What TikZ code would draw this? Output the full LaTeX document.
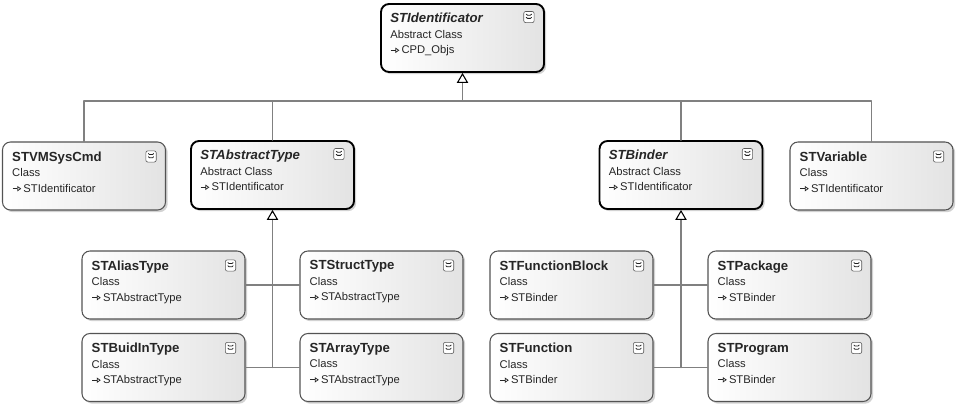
\documentclass[tikz,border=0pt]{standalone}
\usepackage{fontspec}
\setmainfont{Liberation Sans}
\usetikzlibrary{arrows.meta,shadows}

\newcommand\clsname[1]{{\fontsize{9.9pt}{11.6pt}\selectfont\bfseries #1}}
\newcommand\absname[1]{{\fontsize{9.9pt}{11.6pt}\selectfont\bfseries\itshape #1}}
\newcommand\inh{\tikz[baseline=-0.6ex]\draw[line width=0.55pt,-{Triangle[open,length=3pt,width=4pt]}] (0,0) -- (6.5pt,0);}

\begin{document}
\begin{tikzpicture}[x=0.75pt,y=-0.75pt,line cap=round,line join=round,
  cls/.style={draw=gray!65!black,line width=0.8pt,rounded corners=6pt,
    minimum width=122.25pt,minimum height=51pt,inner sep=0pt,
    left color=white,right color=gray!22,
    drop shadow={shadow xshift=1.6pt,shadow yshift=-1.6pt,opacity=0.35}},
  abs/.style={cls,draw=black,line width=1.4pt},
  txt/.style={anchor=north west,inner sep=0pt,align=left,
    font=\fontsize{8.4pt}{11.6pt}\selectfont,text=black!85},
  tog/.style={draw=gray!70!black,fill=white,rounded corners=1.5pt,line width=0.45pt,
    minimum width=7.8pt,minimum height=8.4pt,inner sep=0pt,
    path picture={
      \draw[line width=0.6pt,gray!25!black] ([shift={(-2pt,2.2pt)}]path picture bounding box.center) -- ++(2pt,-1.8pt) -- ++(2pt,1.8pt);
      \draw[line width=0.6pt,gray!25!black] ([shift={(-2pt,-0.2pt)}]path picture bounding box.center) -- ++(2pt,-1.8pt) -- ++(2pt,1.8pt);}},
  link/.style={draw=gray,line width=1.1pt},
  inherit/.style={link,-{Triangle[open,length=7.5pt,width=8.5pt,color=black,line width=0.8pt]}}]

  \path[use as bounding box,fill=white] (0,0) rectangle (972,410);

  % root
  \node[abs] (ident) at (462.5,38) {};
  \node[txt] (ident-t) at ([shift={(10,10)}]ident.north west) {\absname{STIdentificator}\\Abstract Class\\\inh\,CPD\_Objs};
  \node[tog] (ident-x) at ([shift={(-16,14)}]ident.north east) {};

  % second row
  \node[cls] (vmsys) at (84,176) {};
  \node[txt] (vmsys-t) at ([shift={(10,10)}]vmsys.north west) {\clsname{STVMSysCmd}\\Class\\\inh\,STIdentificator};
  \node[tog] (vmsys-x) at ([shift={(-15,15)}]vmsys.north east) {};

  \node[abs] (abstype) at (272.5,175) {};
  \node[txt] (abstype-t) at ([shift={(10,10)}]abstype.north west) {\absname{STAbstractType}\\Abstract Class\\\inh\,STIdentificator};
  \node[tog] (abstype-x) at ([shift={(-16,14)}]abstype.north east) {};

  \node[abs] (binder) at (681,175) {};
  \node[txt] (binder-t) at ([shift={(10,10)}]binder.north west) {\absname{STBinder}\\Abstract Class\\\inh\,STIdentificator};
  \node[tog] (binder-x) at ([shift={(-16,14)}]binder.north east) {};

  \node[cls] (variable) at (871.5,176) {};
  \node[txt] (variable-t) at ([shift={(10,10)}]variable.north west) {\clsname{STVariable}\\Class\\\inh\,STIdentificator};
  \node[tog] (variable-x) at ([shift={(-15,15)}]variable.north east) {};

  % types
  \node[cls] (alias) at (163.5,285) {};
  \node[txt] (alias-t) at ([shift={(10,10)}]alias.north west) {\clsname{STAliasType}\\Class\\\inh\,STAbstractType};
  \node[tog] (alias-x) at ([shift={(-15,15)}]alias.north east) {};

  \node[cls] (struct) at (381.5,285) {};
  \node[txt] (struct-t) at ([shift={(10,10)}]struct.north west) {\clsname{STStructType}\\Class\\\inh\,STAbstractType};
  \node[tog] (struct-x) at ([shift={(-15,15)}]struct.north east) {};

  \node[cls] (buildin) at (163.5,367.5) {};
  \node[txt] (buildin-t) at ([shift={(10,10)}]buildin.north west) {\clsname{STBuidInType}\\Class\\\inh\,STAbstractType};
  \node[tog] (buildin-x) at ([shift={(-15,15)}]buildin.north east) {};

  \node[cls] (array) at (381.5,367.5) {};
  \node[txt] (array-t) at ([shift={(10,10)}]array.north west) {\clsname{STArrayType}\\Class\\\inh\,STAbstractType};
  \node[tog] (array-x) at ([shift={(-15,15)}]array.north east) {};

  % binders
  \node[cls] (fblock) at (571.5,285) {};
  \node[txt] (fblock-t) at ([shift={(10,10)}]fblock.north west) {\clsname{STFunctionBlock}\\Class\\\inh\,STBinder};
  \node[tog] (fblock-x) at ([shift={(-15,15)}]fblock.north east) {};

  \node[cls] (package) at (789.5,285) {};
  \node[txt] (package-t) at ([shift={(10,10)}]package.north west) {\clsname{STPackage}\\Class\\\inh\,STBinder};
  \node[tog] (package-x) at ([shift={(-15,15)}]package.north east) {};

  \node[cls] (function) at (571.5,367.5) {};
  \node[txt] (function-t) at ([shift={(10,10)}]function.north west) {\clsname{STFunction}\\Class\\\inh\,STBinder};
  \node[tog] (function-x) at ([shift={(-15,15)}]function.north east) {};

  \node[cls] (program) at (789.5,367.5) {};
  \node[txt] (program-t) at ([shift={(10,10)}]program.north west) {\clsname{STProgram}\\Class\\\inh\,STBinder};
  \node[tog] (program-x) at ([shift={(-15,15)}]program.north east) {};

  % inheritance lines
  \coordinate (bus) at (462.5,101);
  \draw[link] (vmsys.north) |- (bus);
  \draw[link] (abstype.north) |- (bus);
  \draw[link] (binder.north) |- (bus);
  \draw[link] (variable.north) |- (bus);
  \draw[inherit] (bus) -- (ident.south);

  \coordinate (absj) at (abstype.south |- buildin.east);
  \draw[link] (alias.east) -- (struct.west);
  \draw[link] (buildin.east) -- (array.west);
  \draw[inherit] (absj) -- (abstype.south);

  \coordinate (bindj) at (binder.south |- function.east);
  \draw[link] (fblock.east) -- (package.west);
  \draw[link] (function.east) -- (program.west);
  \draw[inherit] (bindj) -- (binder.south);
\end{tikzpicture}
\end{document}
